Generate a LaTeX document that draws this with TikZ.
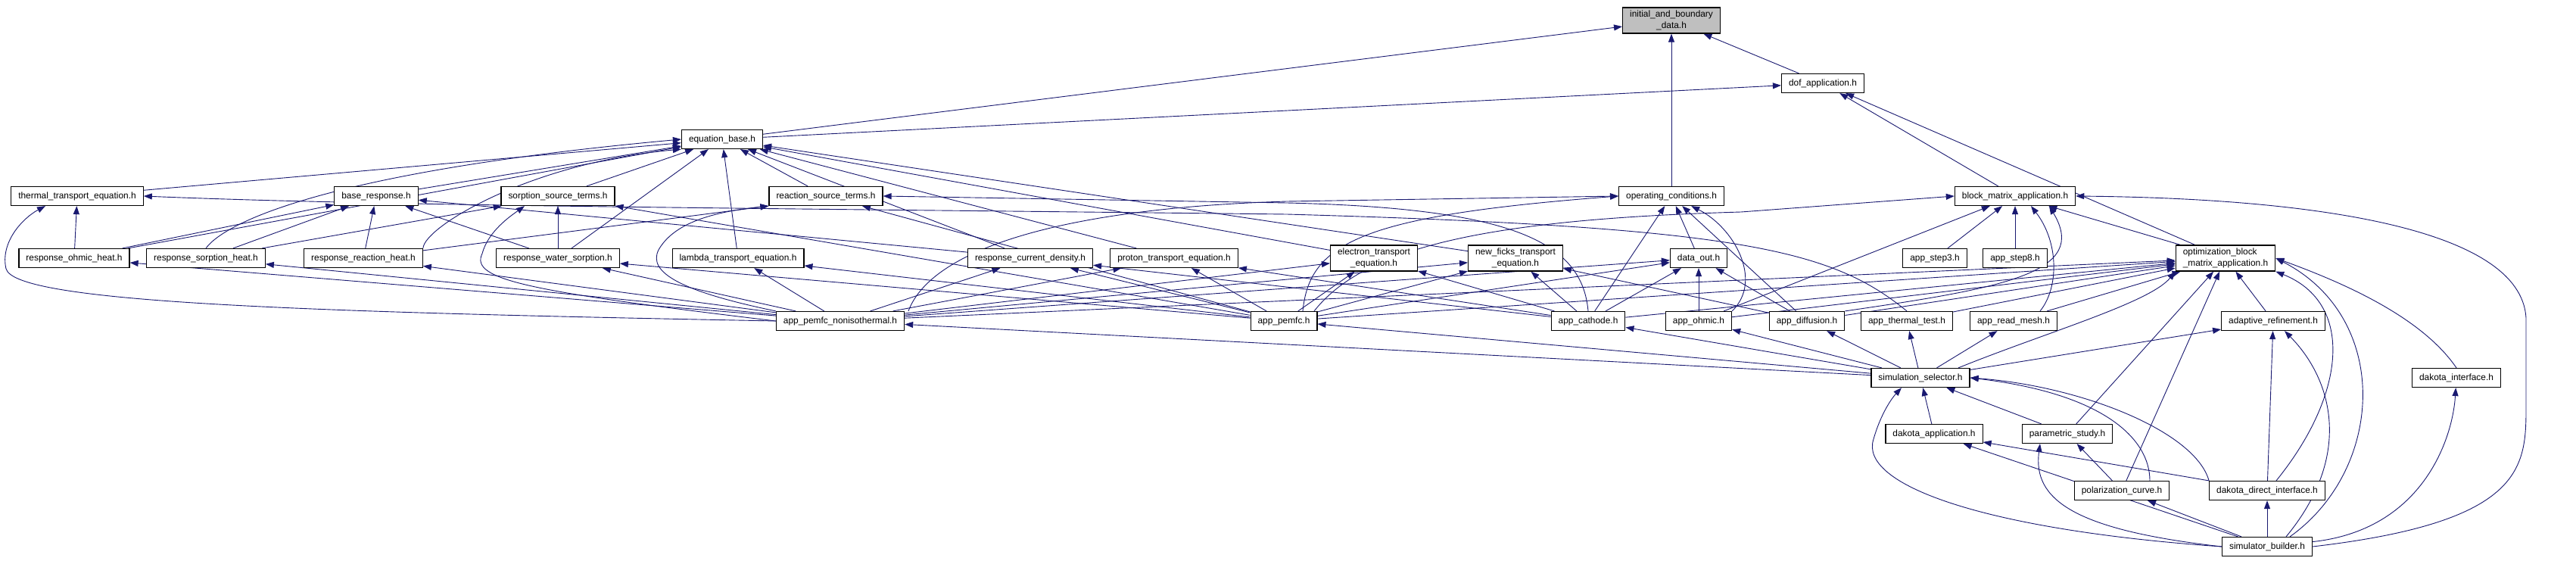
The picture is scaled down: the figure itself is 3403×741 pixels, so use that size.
\documentclass[tikz,border=0pt]{standalone}
\usepackage{fontspec}
\setmainfont{Liberation Sans}
\usetikzlibrary{arrows.meta, backgrounds}
\definecolor{edgeblue}{RGB}{25,25,112}
\definecolor{topgray}{RGB}{191,191,191}

\begin{document}
\begin{tikzpicture}[x=1pt, y=-1pt, font=\fontsize{11.9}{15}\selectfont,
  file/.style={draw, rectangle, line width=1.2pt, minimum height=25pt, inner xsep=9.5pt, inner ysep=4pt, fill=white},
  top/.style={file, fill=topgray, align=center},
  two/.style={file, align=center},
  n/.style={-{Triangle[length=11pt, width=8pt]}, draw=edgeblue, line width=0.9pt}]
            \useasboundingbox (0,0) rectangle (3403,741);
            % nodes
            \node[top] (ibd) at (2208,27) {initial\_and\_boundary\\\_data.h};
            \node[file] (dof) at (2408,110) {dof\_application.h};
            \node[file] (eqbase) at (954,184) {equation\_base.h};
            \node[file] (thermal) at (102,259) {thermal\_transport\_equation.h};
            \node[file] (baseresp) at (497,259) {base\_response.h};
            \node[file] (sorpsrc) at (737,259) {sorption\_source\_terms.h};
            \node[file] (reacsrc) at (1091,259) {reaction\_source\_terms.h};
            \node[file] (opcond) at (2208,259) {operating\_conditions.h};
            \node[file] (blockmat) at (2662,259) {block\_matrix\_application.h};
            \node[file] (ohmicheat) at (98,341) {response\_ohmic\_heat.h};
            \node[file] (sorpheat) at (272,341) {response\_sorption\_heat.h};
            \node[file] (reacheat) at (480,341) {response\_reaction\_heat.h};
            \node[file] (watersorp) at (737,341) {response\_water\_sorption.h};
            \node[file] (lambda) at (975,341) {lambda\_transport\_equation.h};
            \node[file] (curdens) at (1361,341) {response\_current\_density.h};
            \node[file] (proton) at (1551,341) {proton\_transport\_equation.h};
            \node[two] (electron) at (1815,341) {electron\_transport\\\_equation.h};
            \node[two] (newficks) at (2002,341) {new\_ficks\_transport\\\_equation.h};
            \node[file] (dataout) at (2244,341) {data\_out.h};
            \node[file] (step3) at (2556,341) {app\_step3.h};
            \node[file] (step8) at (2662,341) {app\_step8.h};
            \node[file, align=left] (optblock) at (2940,341) {optimization\_block\\\_matrix\_application.h};
            \node[file] (noniso) at (1110,424) {app\_pemfc\_nonisothermal.h};
            \node[file] (pemfc) at (1696,424) {app\_pemfc.h};
            \node[file] (cathode) at (2098,424) {app\_cathode.h};
            \node[file] (ohmic) at (2244,424) {app\_ohmic.h};
            \node[file] (diffusion) at (2387,424) {app\_diffusion.h};
            \node[file] (thermaltest) at (2519,424) {app\_thermal\_test.h};
            \node[file] (readmesh) at (2660,424) {app\_read\_mesh.h};
            \node[file] (adaptive) at (3003,424) {adaptive\_refinement.h};
            \node[file] (selector) at (2537,499) {simulation\_selector.h};
            \node[file] (dakint) at (3245,499) {dakota\_interface.h};
            \node[file] (dakapp) at (2555,573) {dakota\_application.h};
            \node[file] (parametric) at (2731,573) {parametric\_study.h};
            \node[file] (polar) at (2803,648) {polarization\_curve.h};
            \node[file] (ddi) at (2995,648) {dakota\_direct\_interface.h};
            \node[file] (builder) at (2995,722) {simulator\_builder.h};
            % edges
            \begin{pgfonlayer}{background}
            \draw [n] (eqbase) -- (ibd);
            \draw [n] (opcond) -- (ibd);
            \draw [n] (dof) -- (ibd);
            \draw [n] (eqbase) -- (dof);
            \draw [n] (blockmat) -- (dof);
            \draw [n] (optblock) -- (dof);
            \draw [n] (thermal) -- (eqbase);
            \draw [n] (baseresp) -- (eqbase);
            \draw [n] (sorpsrc) -- (eqbase);
            \draw [n] (reacsrc) -- (eqbase);
            \draw [n] (ohmicheat) -- (eqbase);
            \draw [n] (sorpheat.north) .. controls (300,290) and (450,225) .. (eqbase.west);
            \draw [n] (reacheat.north east) .. controls (560,300) and (700,215) .. (eqbase.south west);
            \draw [n] (watersorp) -- (eqbase);
            \draw [n] (lambda) -- (eqbase);
            \draw [n] (curdens) -- (eqbase);
            \draw [n] (proton) -- (eqbase);
            \draw [n] (electron) -- (eqbase);
            \draw [n] (newficks) -- (eqbase);
            \draw [n] (ohmicheat) -- (thermal);
            \draw [n] (noniso.west) .. controls (400,412) and (20,400) .. (8,355) .. controls (0,320) and (30,288) .. ([xshift=-42pt]thermal.south);
            \draw [n] (thermaltest.north) .. controls (2420,330) and (2300,300) .. (1700,283) .. controls (1000,275) and (500,272) .. (thermal.east);
            \draw [n] (ohmicheat) -- (baseresp);
            \draw [n] (sorpheat) -- (baseresp);
            \draw [n] (reacheat) -- (baseresp);
            \draw [n] (watersorp) -- (baseresp);
            \draw [n] (curdens) -- (baseresp);
            \draw [n] (sorpheat) -- (sorpsrc);
            \draw [n] (watersorp) -- (sorpsrc);
            \draw [n] (noniso.west) .. controls (700,385) and (620,370) .. (637,335) .. controls (645,305) and (675,285) .. ([xshift=-44pt]sorpsrc.south);
            \draw [n] (pemfc) -- (sorpsrc);
            \draw [n] (reacheat) -- (reacsrc.south west);
            \draw [n] (noniso.north west) .. controls (900,385) and (855,360) .. (870,330) .. controls (890,295) and (940,280) .. (reacsrc.south west);
            \draw [n] (pemfc) -- (reacsrc);
            \draw [n] (cathode.north) .. controls (2090,320) and (2000,275) .. (1700,268) -- (reacsrc.east);
            \draw [n] ([xshift=90pt]noniso.north) .. controls (1230,330) and (1400,275) .. (1700,266) -- (opcond.west);
            \draw [n] ([xshift=25pt]pemfc.north) .. controls (1730,320) and (1800,285) .. (opcond.west);
            \draw [n] (cathode) -- (opcond);
            \draw [n] (dataout) -- (opcond);
            \draw [n] (ohmic.north east) .. controls (2330,370) and (2290,300) .. (opcond);
            \draw [n] (diffusion) -- (opcond);
            \draw [n] ([xshift=40pt]pemfc.north) .. controls (1800,330) and (1950,290) .. (2300,280) -- (blockmat.west);
            \draw [n] (ohmic) -- (blockmat);
            \draw [n] (step3) -- (blockmat);
            \draw [n] (step8) -- (blockmat);
            \draw [n] ([xshift=35pt]readmesh.north) .. controls (2720,380) and (2720,320) .. ([xshift=21pt]blockmat.south);
            \draw [n] (diffusion.north east) .. controls (2650,380) and (2760,360) .. ([xshift=45pt]blockmat.south);
            \draw [n] (optblock) -- (blockmat);
            \draw [n] (builder.east) .. controls (3330,690) and (3337,620) .. (3337,540) -- (3337,420) .. controls (3330,300) and (3050,262) .. (blockmat.east);
            \draw [n] (noniso) -- (ohmicheat);
            \draw [n] (noniso) -- (sorpheat);
            \draw [n] (noniso) -- (reacheat);
            \draw [n] (noniso) -- (watersorp);
            \draw [n] (noniso) -- (lambda);
            \draw [n] (noniso) -- (curdens);
            \draw [n] (noniso) -- (proton);
            \draw [n] (noniso) -- (electron);
            \draw [n] (noniso) -- (newficks);
            \draw [n] (noniso) -- (dataout);
            \draw [n] (noniso) -- (optblock);
            \draw [n] (pemfc) -- (watersorp);
            \draw [n] (pemfc) -- (lambda);
            \draw [n] (pemfc) -- (curdens);
            \draw [n] (pemfc) -- (proton);
            \draw [n] (pemfc) -- (electron);
            \draw [n] (pemfc) -- (newficks);
            \draw [n] (pemfc) -- (dataout);
            \draw [n] (pemfc) -- (optblock);
            \draw [n] (cathode) -- (curdens);
            \draw [n] (cathode) -- (proton);
            \draw [n] (cathode) -- (electron);
            \draw [n] (cathode) -- (newficks);
            \draw [n] (cathode) -- (dataout);
            \draw [n] (cathode) -- (optblock);
            \draw [n] (ohmic) -- (dataout);
            \draw [n] (ohmic) -- (optblock);
            \draw [n] (diffusion) -- (newficks);
            \draw [n] (diffusion) -- (dataout);
            \draw [n] (diffusion) -- (optblock);
            \draw [n] (thermaltest) -- (optblock);
            \draw [n] (readmesh) -- (optblock);
            \draw [n] (adaptive) -- (optblock);
            \draw [n] (parametric) -- (optblock);
            \draw [n] (polar) -- (optblock);
            \draw [n] ([xshift=50pt]selector.north) .. controls (2700,440) and (2840,400) .. (optblock.south west);
            \draw [n] ([xshift=12pt]ddi.north) .. controls (3100,520) and (3110,400) .. (optblock.south east);
            \draw [n] ([xshift=30pt]builder.north) .. controls (3150,620) and (3160,420) .. (optblock.east);
            \draw [n] (dakint.north) .. controls (3200,420) and (3100,375) .. (optblock.east);
            \draw [n] (selector) -- (noniso);
            \draw [n] (selector) -- (pemfc);
            \draw [n] (selector) -- (cathode);
            \draw [n] (selector) -- (ohmic);
            \draw [n] (selector) -- (diffusion);
            \draw [n] (selector) -- (thermaltest);
            \draw [n] (selector) -- (readmesh);
            \draw [n] (selector) -- (adaptive);
            \draw [n] (ddi) -- (adaptive);
            \draw [n] ([xshift=25pt]builder.north) .. controls (3110,600) and (3080,500) .. ([xshift=15pt]adaptive.south);
            \draw [n] (dakapp) -- (selector);
            \draw [n] (parametric) -- (selector);
            \draw [n] ([xshift=37pt]polar.north) .. controls (2840,580) and (2780,520) .. (selector.east);
            \draw [n] (ddi.north west) .. controls (2900,570) and (2750,510) .. (selector.east);
            \draw [n] (builder.west) .. controls (2620,700) and (2455,640) .. (2475,580) .. controls (2485,545) and (2500,525) .. ([xshift=-25pt]selector.south);
            \draw [n] (builder) -- (dakapp);
            \draw [n] (ddi) -- (dakapp);
            \draw [n] (polar) -- (parametric);
            \draw [n] (builder.west) .. controls (2740,700) and (2685,660) .. ([xshift=-36pt]parametric.south);
            \draw [n] (builder) -- (polar);
            \draw [n] (builder) -- (ddi);
            \draw [n] (builder) .. controls (3200,700) and (3240,580) .. (dakint);
            \end{pgfonlayer}
        \end{tikzpicture}
\end{document}
